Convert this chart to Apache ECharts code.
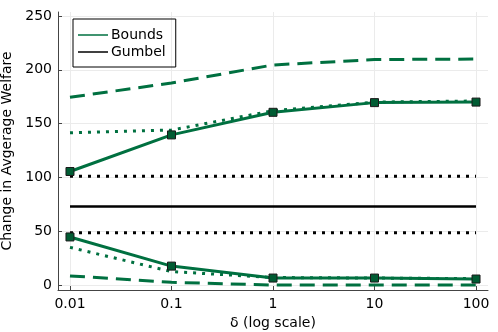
<!DOCTYPE html>
<html>
<head>
<meta charset="utf-8">
<script src="https://cdn.jsdelivr.net/npm/echarts@6/dist/echarts.min.js"></script>
<style>
  html, body { margin: 0; padding: 0; background: #fff; }
  #chart { width: 498px; height: 332px; }
</style>
</head>
<body>
<div id="chart"></div>
<script>
// delta values (x axis, log scale)
const deltas = [0.01, 0.1, 1, 10, 100];
const xTicks = [0.01, 0.1, 1, 10, 100];
const yTicks = [0, 50, 100, 150, 200, 250];

// Bounds (green)
const boundsUpper = [105.5, 139.5, 160.5, 169.5, 170];
const boundsLower = [44.7, 17.6, 6.5, 6.5, 5.6];
const dottedUpper = [141.5, 144, 162, 170, 171];
const dottedLower = [35, 12.5, 7, 6.5, 6];
const dashedUpper = [174.5, 187.7, 204.5, 209.5, 210];
const dashedLower = [8.5, 2.5, 0, 0, 0];

// Gumbel (black)
const gumbelMean = [73, 73, 73, 73, 73];
const gumbelHigh = [101, 101, 101, 101, 101];
const gumbelLow = [48.5, 48.5, 48.5, 48.5, 48.5];

const green = '#007040';
const lx = v => Math.log10(v);
const pts = arr => deltas.map((d, i) => [lx(d), arr[i]]);

function line(name, arr, color, width, type, marker) {
    return {
        name: name,
        type: 'line',
        data: pts(arr),
        symbol: marker ? 'rect' : 'none',
        symbolSize: 8,
        showSymbol: !!marker,
        lineStyle: { color: color, width: width, type: type, cap: 'butt' },
        itemStyle: { color: marker ? '#005c33' : color, borderColor: '#1a1a1a', borderWidth: 1 },
        emphasis: { disabled: true },
        z: marker ? 5 : 2
    };
}

const chart = echarts.init(document.getElementById('chart'));
chart.setOption({
    animation: false,
    textStyle: { fontFamily: 'DejaVu Sans' },
    grid: { left: 58, right: 10, top: 12, bottom: 42, outerBoundsMode: 'none', containLabel: false },
    legend: {
        data: [
            { name: 'Bounds', itemStyle: { color: green, borderWidth: 0 } },
            { name: 'Gumbel', itemStyle: { color: '#000', borderWidth: 0 } }
        ],
        orient: 'vertical',
        left: 73,
        top: 19,
        borderColor: '#000',
        borderWidth: 1,
        padding: [9, 10, 8, 5],
        itemGap: 3,
        itemWidth: 30,
        itemHeight: 1.5,
        icon: 'rect',
        textStyle: { fontSize: 14, color: '#000', fontFamily: 'DejaVu Sans', padding: [0, 0, 0, -2] }
    },
    xAxis: {
        type: 'value',
        min: -2.118,
        max: 2.118,
        name: 'δ (log scale)',
        nameLocation: 'middle',
        nameGap: 24,
        nameTextStyle: { fontSize: 14, color: '#000' },
        axisLine: { onZero: false, lineStyle: { color: '#444', width: 1 } },
        axisTick: { show: true, inside: true, length: 4, customValues: xTicks.map(lx), lineStyle: { color: '#444' } },
        axisLabel: {
            customValues: xTicks.map(lx),
            fontSize: 14, color: '#000', margin: 7,
            formatter: v => String(Number(Math.pow(10, v).toPrecision(2)))
        },
        splitLine: { show: true, lineStyle: { color: '#ebebeb', width: 1 } }
    },
    yAxis: {
        type: 'value',
        min: -4.6,
        max: 253.7,
        name: 'Change in Avgerage Welfare',
        nameLocation: 'middle',
        nameGap: 39,
        nameTextStyle: { fontSize: 14, color: '#000' },
        axisLine: { show: true, onZero: false, lineStyle: { color: '#444', width: 1 } },
        axisTick: { show: true, inside: true, length: 4, customValues: yTicks, lineStyle: { color: '#444' } },
        axisLabel: { customValues: yTicks, fontSize: 14, color: '#000', margin: 6 },
        splitLine: { show: true, lineStyle: { color: '#ebebeb', width: 1 } }
    },
    series: [
        line('Bounds', boundsUpper, green, 3, 'solid', true),
        line('Bounds', boundsLower, green, 3, 'solid', true),
        line('Bounds', dottedUpper, green, 3, [3, 6], false),
        line('Bounds', dottedLower, green, 3, [3, 6], false),
        line('Bounds', dashedUpper, green, 3, [15, 8], false),
        line('Bounds', dashedLower, green, 3, [15, 8], false),
        line('Gumbel', gumbelMean, '#000', 2.5, 'solid', false),
        line('Gumbel', gumbelHigh, '#000', 3, [3, 6], false),
        line('Gumbel', gumbelLow, '#000', 3, [3, 6], false)
    ]
});
</script>
</body>
</html>
